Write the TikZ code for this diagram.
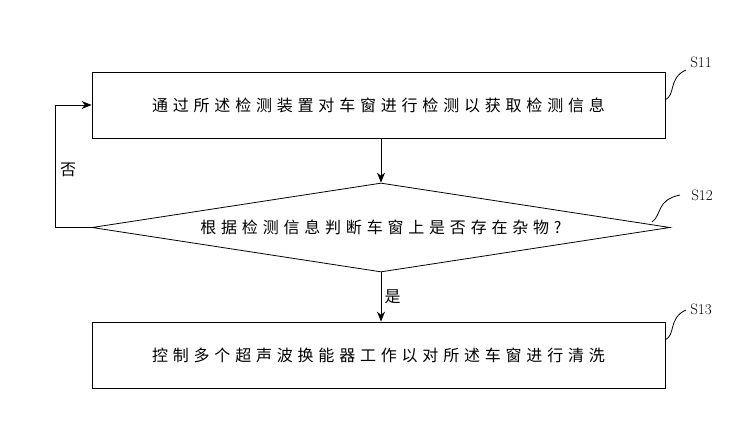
\documentclass[tikz,border=0pt]{standalone}
\usepackage{fontspec}
\newfontfamily\cjk[LetterSpace=30]{Noto Sans CJK SC}
\usetikzlibrary{positioning,shapes.geometric,arrows.meta}
\tikzset{
  stepbox/.style={draw,thick,minimum width=573pt,minimum height=66pt,font=\cjk\fontsize{16}{18}\selectfont},
  decide/.style={draw,thick,diamond,aspect=6.5,minimum width=578pt,minimum height=89pt,inner sep=0pt,font=\cjk\fontsize{16}{18}\selectfont},
  flow/.style={thick,-{Stealth[length=10pt,width=8pt]}},
  tag/.style={font=\fontsize{15}{17}\selectfont},
}
\begin{document}
\begin{tikzpicture}[x=1pt,y=-1pt]
  \useasboundingbox (0,0) rectangle (750,439);
  \node[stepbox] (s11) at (378.5,105) {通过所述检测装置对车窗进行检测以获取检测信息};
  \node[decide] (s12) at (381,227.5) {根据检测信息判断车窗上是否存在杂物?};
  \node[stepbox] (s13) at (378.5,355) {控制多个超声波换能器工作以对所述车窗进行清洗};
  % flow
  \draw[flow] (s11.south -| s12.north) -- (s12.north);
  \draw[flow] (s12.south) -- node[right,font=\cjk\fontsize{16}{18}\selectfont]{是} (s13.north -| s12.south);
  \coordinate (back) at (55,227.5);
  \draw[flow] (s12.west) -- (back) |- (s11.west);
  \node[font=\cjk\fontsize{16}{18}\selectfont] (no) at (68,170) {否};
  % step tags
  \node[tag] (t11) at (701,62) {S11};
  \node[tag] (t12) at (702,195) {S12};
  \node[tag] (t13) at (701,309) {S13};
  \draw[thick] (665,100) .. controls (676,95) and (668,78) .. (686,70);
  \draw[thick] (652,222) .. controls (662,215) and (656,200) .. (680,195);
  \draw[thick] (665,340) .. controls (676,335) and (668,318) .. (686,310);
\end{tikzpicture}
\end{document}
